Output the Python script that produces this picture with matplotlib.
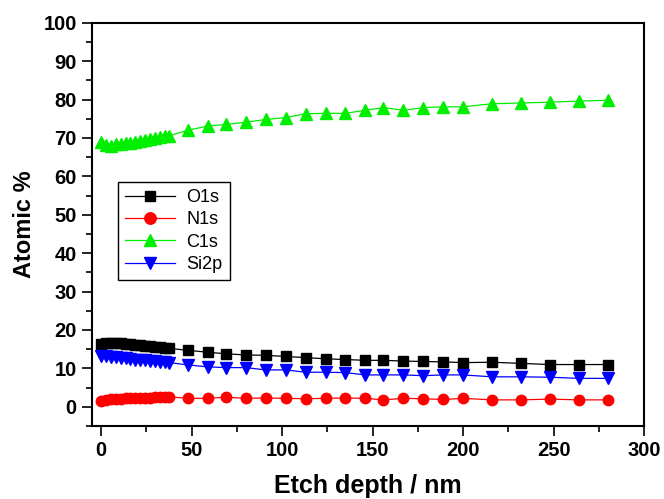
import matplotlib
matplotlib.use("Agg")
import matplotlib.pyplot as plt
from matplotlib.ticker import MultipleLocator

plt.rcParams['font.family'] = ['Liberation Sans', 'DejaVu Sans']

depth = [0, 2.7, 5.4, 8.1, 10.8, 13.5, 16.2, 18.9, 21.6, 24.3, 27.0, 29.7, 32.4, 35.1, 37.8,
         48, 59, 69, 80, 91, 102, 113, 124, 135, 146, 156, 167, 178, 189, 200,
         216, 232, 248, 264, 280]

o1s = [16.4, 16.6, 16.7, 16.6, 16.5, 16.4, 16.3, 16.2, 16.0, 15.9, 15.8, 15.6, 15.5, 15.4, 15.2,
       14.7, 14.2, 13.8, 13.5, 13.4, 13.1, 12.8, 12.5, 12.3, 12.1, 12.1, 11.9, 11.8, 11.7, 11.5,
       11.6, 11.3, 11.0, 11.0, 11.0]

n1s = [1.5, 1.8, 2.0, 2.0, 2.1, 2.2, 2.2, 2.3, 2.3, 2.4, 2.4, 2.5, 2.5, 2.6, 2.6,
       2.2, 2.2, 2.5, 2.2, 2.3, 2.2, 2.1, 2.2, 2.3, 2.2, 1.8, 2.2, 2.1, 1.9, 2.2,
       1.8, 1.8, 2.0, 1.8, 1.8]

c1s = [69.0, 68.2, 68.0, 68.3, 68.5, 68.6, 68.8, 69.0, 69.3, 69.5, 69.7, 69.9, 70.2, 70.4, 70.6,
       72.0, 73.1, 73.5, 74.1, 74.8, 75.3, 76.3, 76.4, 76.4, 77.2, 77.9, 77.2, 77.9, 78.1, 78.1,
       78.9, 79.1, 79.3, 79.6, 79.8]

si2p = [13.3, 13.2, 13.0, 12.9, 12.7, 12.6, 12.5, 12.3, 12.2, 12.1, 11.9, 11.8, 11.7, 11.6, 11.5,
        10.9, 10.4, 10.2, 10.2, 9.6, 9.6, 9.0, 9.0, 8.9, 8.3, 8.3, 8.3, 8.1, 8.3, 8.3,
        7.8, 7.8, 7.7, 7.4, 7.4]

series = [
    ("O1s", o1s, "black", "s", 6.5),
    ("N1s", n1s, "red", "o", 7.5),
    ("C1s", c1s, "#00ee00", "^", 8),
    ("Si2p", si2p, "blue", "v", 8),
]

fig = plt.figure(figsize=(6.64, 4.99), dpi=100)
ax = fig.add_axes([0.1386, 0.1463, 0.8314, 0.8082])

for name, vals, col, mk, ms in series:
    ax.plot(depth, vals, color=col, marker=mk, markersize=ms, linewidth=0.9,
            markeredgecolor=col, markerfacecolor=col, label=name)

ax.set_xlim(-5, 300)
ax.set_ylim(-5, 100)
ax.xaxis.set_major_locator(MultipleLocator(50))
ax.xaxis.set_minor_locator(MultipleLocator(25))
ax.yaxis.set_major_locator(MultipleLocator(10))
ax.yaxis.set_minor_locator(MultipleLocator(5))
ax.tick_params(which='major', direction='out', length=7, width=1.2, labelsize=14.5, pad=4)
ax.tick_params(which='minor', direction='out', length=4, width=1.2)
for lab in ax.get_xticklabels() + ax.get_yticklabels():
    lab.set_fontweight('bold')
for sp in ax.spines.values():
    sp.set_linewidth(1.5)

ax.set_xlabel("Etch depth / nm", fontsize=18, fontweight='bold')
ax.xaxis.set_label_coords(0.5, -0.118)
ax.set_ylabel("Atomic %", fontsize=17, fontweight='bold', labelpad=5)

leg = ax.legend(loc='upper left', bbox_to_anchor=(0.03, 0.628), fontsize=13,
                fancybox=False, edgecolor='black', framealpha=1,
                handlelength=2.8, borderpad=0.4, labelspacing=0.3, handletextpad=0.6,
                markerscale=1.1)
leg.get_frame().set_linewidth(1.0)

fig.savefig("out.png", dpi=100)
